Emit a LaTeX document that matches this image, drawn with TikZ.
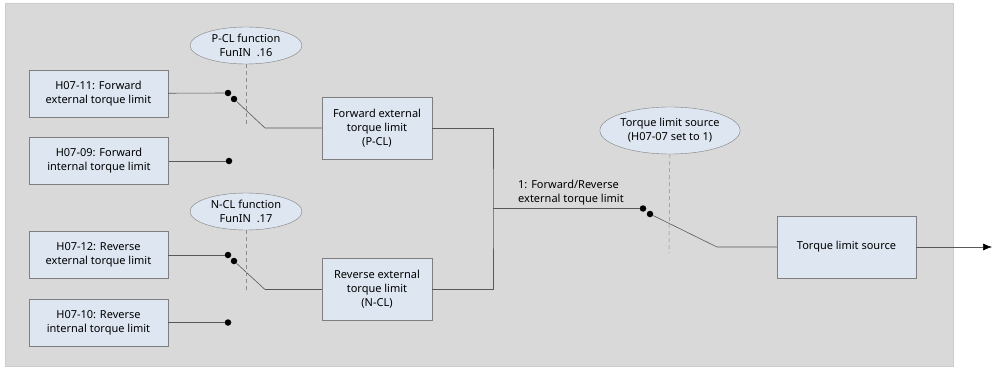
\documentclass[tikz,border=0pt]{standalone}
\usepackage{fontspec}
\setmainfont{Noto Sans}
\usetikzlibrary{positioning,arrows.meta,shapes.geometric}
\definecolor{panel}{HTML}{D9D9D9}
\definecolor{boxfill}{HTML}{DDE6F1}
\definecolor{edge}{HTML}{7F7F7F}

\begin{document}
\begin{tikzpicture}[x=1pt,y=-1pt,blk/.style={draw=edge,fill=boxfill,align=center,font=\fontsize{11}{14}\selectfont,inner sep=0pt,minimum width=139pt,minimum height=47pt},ctl/.style={ellipse,draw=edge,fill=boxfill,align=center,font=\fontsize{11}{14}\selectfont,inner sep=0pt,minimum width=112pt,minimum height=37pt},dot/.style={circle,fill=black,inner sep=0pt,minimum size=6.5pt},wire/.style={draw=black!65,line width=0.6pt},guide/.style={draw=black!45,dashed,dash pattern=on 4pt off 3pt,line width=0.5pt}]
    \useasboundingbox (0,0) rectangle (993,369);
    \filldraw[fill=panel,draw=black!20] (5,3) rectangle (953,366);
    % inputs
    \node[blk] (fext) at (98.5,93.5) {H07-11: Forward\\external torque limit};
    \node[blk] (fint) at (99,161) {H07-09: Forward\\internal torque limit};
    \node[blk] (rext) at (98.5,255) {H07-12: Reverse\\external torque limit};
    \node[blk] (rint) at (98.5,322.5) {H07-10: Reverse\\internal torque limit};
    % function selectors
    \node[ctl] (pcl) at (246,45.5) {P-CL function\\FunIN\ \ .16};
    \node[ctl] (ncl) at (246,211.5) {N-CL function\\FunIN\ \ .17};
    \node[ctl,minimum width=138pt,minimum height=47pt] (tsel) at (670,130.5) {Torque limit source\\(H07-07 set to 1)};
    % limit blocks
    \node[blk,minimum width=110pt,minimum height=62pt] (pblk) at (377,128) {Forward external\\torque limit\\(P-CL)};
    \node[blk,minimum width=110pt,minimum height=62pt] (nblk) at (377,289.5) {Reverse external\\torque limit\\(N-CL)};
    \node[blk,minimum height=62pt] (tls) at (846.5,247) {Torque limit source};
    % switch contacts
    \node[dot] (pa) at (228,93) {};
    \node[dot] (pb) at (234,99) {};
    \node[dot] (pc) at (229,161) {};
    \node[dot] (na) at (228,255) {};
    \node[dot] (nb) at (234,261) {};
    \node[dot] (nc) at (228,322.5) {};
    \node[dot] (ta) at (643,208.5) {};
    \node[dot] (tb) at (650,214) {};
    \coordinate (pk) at (265,128);
    \coordinate (nk) at (265,289.5);
    \coordinate (tk) at (717,247);
    \coordinate (mj) at (493,208.5);
    \coordinate (pe) at (246,127);
    \coordinate (ne) at (246,292);
    \coordinate (te) at (669,253);
    \coordinate (out) at (992,247);
    % wiring
    \draw[wire] (fext) -- (pa); \draw[wire] (fint) -- (pc);
    \draw[wire] (rext) -- (na); \draw[wire] (rint) -- (nc);
    \draw[wire] (pb) -- (pk) -- (pblk);
    \draw[wire] (nb) -- (nk) -- (nblk);
    \draw[wire] (pblk.east) -| (mj) |- (nblk.east);
    \draw[wire] (mj) -- (ta);
    \node[anchor=south west,inner sep=0pt,align=left,font=\fontsize{11}{14}\selectfont] (lbl) at (518,205) {1: Forward/Reverse\\external torque limit};
    \draw[wire] (tb) -- (tk) -- (tls);
    \draw[wire,-{Latex[length=9pt,width=7pt,black]}] (tls) -- (out);
    \draw[guide] (pcl) -- (pe); \draw[guide] (ncl) -- (ne); \draw[guide] (tsel) -- (te);
  \end{tikzpicture}
\end{document}
